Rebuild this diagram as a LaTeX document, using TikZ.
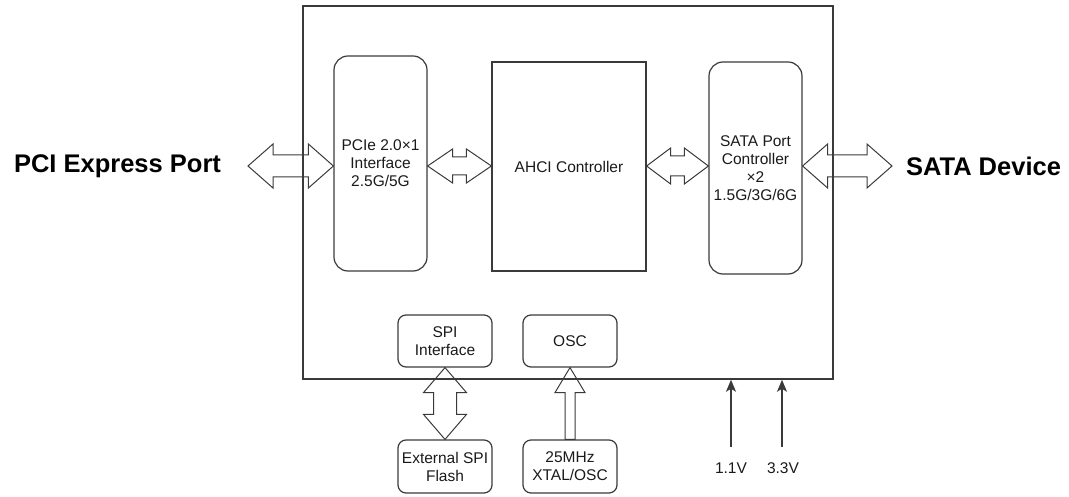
\documentclass[tikz,border=0pt]{standalone}
\usepackage{fontspec}
\setmainfont{Liberation Sans}
\usetikzlibrary{arrows.meta}
\definecolor{ln}{HTML}{3A3A3A}
\definecolor{tx}{HTML}{1A1A1A}
\newcommand\hflex[5]{%
 \draw[flex] (#1) -- ([shift={(#3,-#4)}]#1) -- ([shift={(#3,-#5)}]#1) -- ([shift={(-#3,-#5)}]#2) -- ([shift={(-#3,-#4)}]#2) -- (#2) -- ([shift={(-#3,#4)}]#2) -- ([shift={(-#3,#5)}]#2) -- ([shift={(#3,#5)}]#1) -- ([shift={(#3,#4)}]#1) -- cycle;}
\newcommand\vflex[5]{%
 \draw[flex] (#1) -- ([shift={(#4,#3)}]#1) -- ([shift={(#5,#3)}]#1) -- ([shift={(#5,-#3)}]#2) -- ([shift={(#4,-#3)}]#2) -- (#2) -- ([shift={(-#4,-#3)}]#2) -- ([shift={(-#5,-#3)}]#2) -- ([shift={(-#5,#3)}]#1) -- ([shift={(-#4,#3)}]#1) -- cycle;}
\begin{document}
\begin{tikzpicture}[x=1bp,y=-1bp,
  box/.style={draw=ln,line width=1.2bp,inner sep=0pt,align=center,text=tx,
    font=\fontsize{15.5bp}{18bp}\selectfont},
  rbox/.style={box,rounded corners=14bp},
  sbox/.style={box,rounded corners=8bp},
  flex/.style={draw=ln,line width=1bp,line join=miter},
  volt/.style={draw=ln,line width=1.2bp,-{Stealth[length=12bp,width=10bp,inset=3bp]}},
  lbl/.style={text=tx,font=\fontsize{15.5bp}{18bp}\selectfont,inner sep=0pt},
  big/.style={text=black,font=\fontsize{25.5bp}{30bp}\selectfont\bfseries,inner sep=0pt}]
\useasboundingbox (0,0) rectangle (1069,497);
% outer chip
\node[box,line width=1.5bp,minimum width=530bp,minimum height=373bp] (outer) at (568,192.5) {};
% inner blocks
\node[rbox,minimum width=93bp,minimum height=215bp] (pcie) at (380.5,163.5) {PCIe 2.0×1\\Interface\\2.5G/5G};
\node[box,minimum width=154bp,minimum height=209bp] (ahci) at (569,166.5) {AHCI Controller};
\node[rbox,minimum width=93bp,minimum height=212bp] (sata) at (755.5,168) {SATA Port\\Controller\\×2\\1.5G/3G/6G};
\node[sbox,minimum width=94bp,minimum height=52bp] (spi) at (445,341) {SPI\\Interface};
\node[sbox,minimum width=94bp,minimum height=52bp] (osc) at (570,341) {OSC};
\node[sbox,minimum width=94bp,minimum height=53bp] (ext) at (445,466.5) {External SPI\\Flash};
\node[sbox,minimum width=94bp,minimum height=53bp] (xtal) at (570,466.5) {25MHz\\XTAL/OSC};
% outside labels
\node[big] (pciport) at (117.5,166) {PCI Express Port};
\node[big] (satadev) at (983.5,166) {SATA Device};
\node[lbl] (v1) at (731,468) {1.1V};
\node[lbl] (v3) at (783,468) {3.3V};
% arrow anchor points
\coordinate (ay) at (0,166);
\coordinate (la) at (248,166);
\coordinate (lb) at (pcie.west |- ay);
\coordinate (m1a) at (pcie.east |- ay);
\coordinate (m1b) at (ahci.west |- ay);
\coordinate (m2a) at (ahci.east |- ay);
\coordinate (m2b) at (sata.west |- ay);
\coordinate (ra) at (sata.east |- ay);
\coordinate (rb) at (892,166);
% wide arrows
\hflex{la}{lb}{25}{22}{11}
\hflex{m1a}{m1b}{25}{17}{9}
\hflex{m2a}{m2b}{24}{18}{10}
\hflex{ra}{rb}{25}{22}{11}
\vflex{spi.south}{ext.north}{25}{21.5}{11.5}
\draw[flex] (osc.south) -- ([shift={(15,25)}]osc.south) -- ([shift={(5,25)}]osc.south) -- ([shift={(5,0)}]xtal.north) -- ([shift={(-5,0)}]xtal.north) -- ([shift={(-5,25)}]osc.south) -- ([shift={(-15,25)}]osc.south) -- cycle;
% supply arrows
\coordinate (v1b) at (731,447);
\coordinate (v3b) at (782,447);
\draw[volt] (v1b) -- (v1b |- outer.south);
\draw[volt] (v3b) -- (v3b |- outer.south);
\end{tikzpicture}
\end{document}
